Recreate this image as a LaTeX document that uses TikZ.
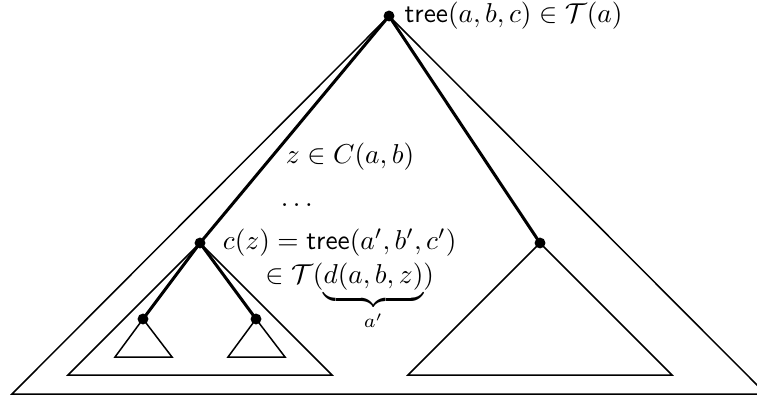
\documentclass[tikz,border=0pt]{standalone}
\usepackage{tikz}
\usetikzlibrary{positioning}
\usepackage{amsmath}
\usepackage{amssymb}

\begin{document}
\begin{tikzpicture}[
  x=0.366pt, y=-0.366pt,
  % Tree positions
  dot/.style={circle, fill=black, inner sep=0pt, minimum size=4pt},
  % Path through the tree
  path edge/.style={line width=1.1pt},
  % Subtree outlines
  subtree/.style={line width=0.55pt, line join=miter},
  lbl/.style={inner sep=1pt}
]
\useasboundingbox (0,0) rectangle (757,398);

% Nodes of the tree
\node[dot] (root)  at (389,16)  {};
\node[dot] (cz)    at (200,243) {};
\node[dot] (right) at (540,243) {};
\node[dot] (subl)  at (143,319) {};
\node[dot] (subr)  at (256,319) {};

% Outer triangle is cut by the right edge of the picture
\draw[subtree] (root.center) -- (12,394) -- (766,394) -- cycle;
\draw[subtree] (cz.center) -- (68,375) -- (332,375) -- cycle;
\draw[subtree] (right.center) -- (408,375) -- (672,375) -- cycle;
\draw[subtree] (subl.center) -- (115,357) -- (172,357) -- cycle;
\draw[subtree] (subr.center) -- (228,357) -- (285,357) -- cycle;

\draw[path edge] (root.center) -- (cz.center);
\draw[path edge] (root.center) -- (right.center);
\draw[path edge] (cz.center) -- (subl.center);
\draw[path edge] (cz.center) -- (subr.center);

% Labels
\node[lbl, inner sep=0pt, right=3.3pt of root] (rootlbl) {$\mathsf{tree}(a,b,c) \in \mathcal{T}(a)$};
\node[lbl] (zin) at (350,157) {$z \in C(a,b)$};
\node[lbl] (vdots) at (299,205) {$\dots$};
\node[lbl, right=5pt of cz] (czlbl) {$c(z) = \mathsf{tree}(a',b',c')$};
\node[lbl, anchor=base west] (inlbl) at (262,283)
  {$\in \mathcal{T}(\underbrace{d(a,b,z)}_{a'})$};

\end{tikzpicture}
\end{document}
